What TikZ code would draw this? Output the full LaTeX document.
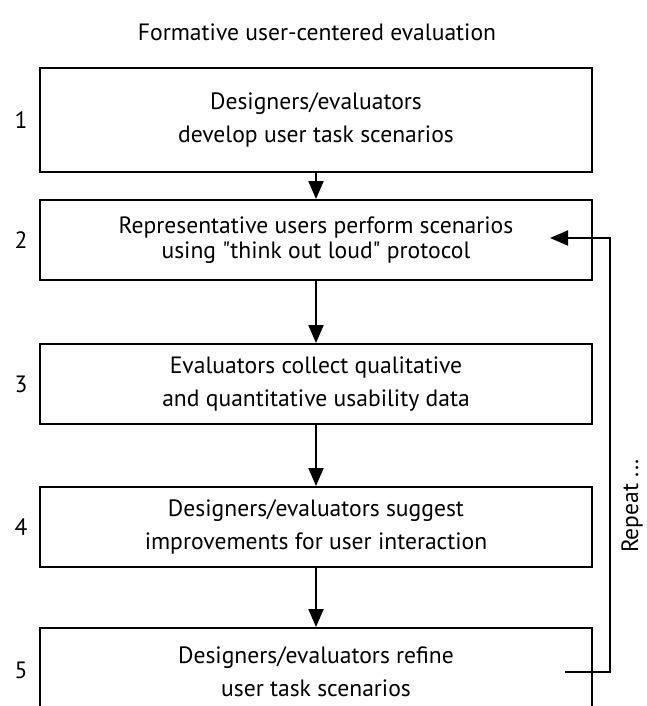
\documentclass[tikz,border=0pt]{standalone}
\usepackage{fontspec}
\setmainfont{PT Sans}
\usetikzlibrary{arrows.meta}

\begin{document}
\begin{tikzpicture}[
  x=0.5pt,y=-0.5pt,
  line width=1pt,
  >={Triangle[length=9pt,width=7.5pt]},
  every node/.style={font=\fontsize{11.8}{16.5}\selectfont},
  stage/.style={draw,minimum width=276pt,minimum height=40pt,
    inner sep=2pt,align=center},
  stagenum/.style={inner sep=0pt}
]

% Frame and clip: the last stage runs off the bottom edge.
\useasboundingbox (0,0) rectangle (647,706);
\clip (0,0) rectangle (647,706);

\node (title) at (317,32) {Formative user-centered evaluation};

\node[stage,minimum height=52pt] (develop) at (316,120)
  {Designers/evaluators\\develop user task scenarios};
\node[stage] (perform) at (316,240)
  {Representative users perform scenarios\\[-4pt]using \textquotedbl think out loud\textquotedbl{} protocol};
\node[stage] (collect) at (316,384)
  {Evaluators collect qualitative\\and quantitative usability data};
\node[stage] (suggest) at (316,527)
  {Designers/evaluators suggest\\improvements for user interaction};
\node[stage,minimum height=44pt,anchor=north] (refine) at (316,627)
  {Designers/evaluators refine\\user task scenarios};

% Step numbers sit left of each box.
\node[stagenum] (n1) at (21,120) {1};
\node[stagenum] (n2) at (21,240) {2};
\node[stagenum] (n3) at (21,384) {3};
\node[stagenum] (n4) at (21,527) {4};
\node[stagenum] (n5) at (21,670) {5};

% Forward chain down the middle.
\draw[->] (develop) -- (perform);
\draw[->] (perform) -- (collect);
\draw[->] (collect) -- (suggest);
\draw[->] (suggest) -- (refine);

% Loop back from refinement to the user sessions.
\coordinate (loopstart) at (565,672);
\coordinate (looptip) at (550,238);
\draw[->] (loopstart) -- ++(45,0) |- (looptip);
\node[rotate=90] (repeat) at (632,506) {Repeat ...};

\end{tikzpicture}
\end{document}
